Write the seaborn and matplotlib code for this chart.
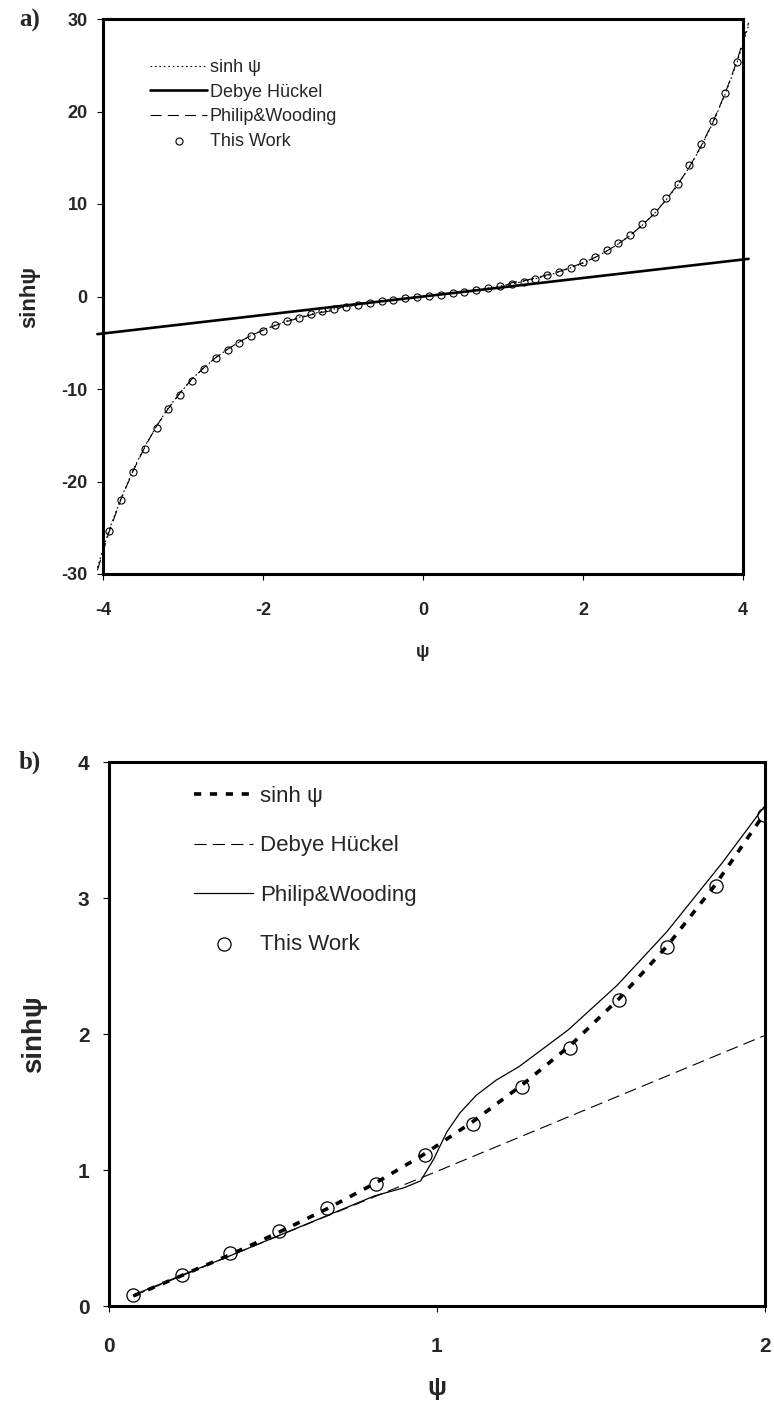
import matplotlib
matplotlib.use("Agg")
import matplotlib.pyplot as plt
import seaborn as sns

# ---- panel a data ----
a_line_x = [-4.07, -3.922, -3.774, -3.626, -3.478, -3.33, -3.182, -3.034, -2.886, -2.738,
            -2.59, -2.442, -2.294, -2.146, -1.998, -1.85, -1.702, -1.554, -1.406, -1.258,
            -1.11, -0.962, -0.814, -0.666, -0.518, -0.37, -0.222, -0.074,
            0.074, 0.222, 0.37, 0.518, 0.666, 0.814, 0.962, 1.11, 1.258, 1.406,
            1.554, 1.702, 1.85, 1.998, 2.146, 2.294, 2.442, 2.59, 2.738, 2.886,
            3.034, 3.182, 3.33, 3.478, 3.626, 3.774, 3.922, 4.07]
a_sinh = [-29.3, -25.2, -21.8, -18.8, -16.2, -14.0, -12.0, -10.4, -8.9, -7.7,
          -6.6, -5.7, -4.9, -4.2, -3.6, -3.1, -2.65, -2.26, -1.92, -1.62,
          -1.36, -1.12, -0.91, -0.72, -0.54, -0.38, -0.22, -0.07,
          0.07, 0.22, 0.38, 0.54, 0.72, 0.91, 1.12, 1.36, 1.62, 1.92,
          2.26, 2.65, 3.1, 3.6, 4.2, 4.9, 5.7, 6.6, 7.7, 8.9,
          10.4, 12.0, 14.0, 16.2, 18.8, 21.8, 25.2, 29.3]
a_pw = [-29.6, -25.4, -21.9, -18.9, -16.3, -14.0, -12.1, -10.4, -8.9, -7.7,
        -6.6, -5.7, -4.9, -4.2, -3.65, -3.15, -2.7, -2.35, -2.0, -1.7,
        -1.5, -0.95, -0.82, -0.67, -0.52, -0.37, -0.22, -0.07,
        0.07, 0.22, 0.37, 0.52, 0.67, 0.82, 0.95, 1.5, 1.7, 2.0,
        2.35, 2.7, 3.15, 3.65, 4.2, 4.9, 5.7, 6.6, 7.7, 8.9,
        10.4, 12.1, 14.0, 16.3, 18.9, 21.9, 25.4, 29.6]
a_dh_x = [-4.07, -2.0, 0.0, 2.0, 4.07]
a_dh = [-4.07, -2.0, 0.0, 2.0, 4.07]
a_work_x = a_line_x[1:-1]
a_work = [-25.4, -22.0, -19.0, -16.5, -14.2, -12.2, -10.6, -9.1, -7.8, -6.7,
          -5.8, -5.0, -4.3, -3.7, -3.1, -2.7, -2.3, -1.9, -1.6, -1.4,
          -1.1, -0.9, -0.7, -0.5, -0.4, -0.2, -0.1,
          0.1, 0.2, 0.4, 0.5, 0.7, 0.9, 1.1, 1.4, 1.6, 1.9,
          2.3, 2.7, 3.1, 3.7, 4.3, 5.0, 5.8, 6.7, 7.8, 9.1,
          10.6, 12.2, 14.2, 16.5, 19.0, 22.0, 25.4]

# ---- panel b data ----
b_x = [0.074, 0.222, 0.37, 0.518, 0.666, 0.814, 0.962, 1.11, 1.258, 1.406,
       1.554, 1.702, 1.85, 1.998]
b_sinh = [0.074, 0.224, 0.378, 0.542, 0.716, 0.906, 1.118, 1.357, 1.623, 1.915,
          2.257, 2.648, 3.102, 3.62]
b_work = [0.08, 0.23, 0.39, 0.55, 0.72, 0.90, 1.11, 1.34, 1.61, 1.90,
          2.25, 2.64, 3.09, 3.61]
b_dh_x = [0.074, 0.5, 1.0, 1.4, 1.7, 2.0]
b_dh = [0.074, 0.5, 0.99, 1.39, 1.69, 1.99]
b_pw_x = [0.074, 0.22, 0.37, 0.52, 0.67, 0.81, 0.90, 0.95, 0.99, 1.03, 1.07,
          1.12, 1.18, 1.25, 1.40, 1.55, 1.70, 1.87, 2.0]
b_pw = [0.08, 0.225, 0.37, 0.52, 0.67, 0.81, 0.87, 0.92, 1.08, 1.28, 1.42,
        1.55, 1.66, 1.76, 2.03, 2.36, 2.75, 3.26, 3.68]

labels = ["sinh ψ", "Debye Hückel", "Philip&Wooding", "This Work"]

sns.set_style("white")
plt.rcParams["font.family"] = ["Liberation Sans", "DejaVu Sans"]
plt.rcParams["axes.unicode_minus"] = False

fig = plt.figure(figsize=(7.74, 14.03), dpi=100)
ax_a = fig.add_axes([103 / 774, 1 - 574 / 1403, 640 / 774, 555 / 1403])
ax_b = fig.add_axes([109 / 774, 1 - 1306 / 1403, 656 / 774, 544 / 1403])


def style_axes(ax, tick_size, xpad, ypad):
    for sp in ax.spines.values():
        sp.set_visible(True)
        sp.set_color("black")
        sp.set_linewidth(2.2)
    ax.tick_params(direction="out", length=4, width=0.8, color="black",
                   left=True, bottom=True, labelsize=tick_size)
    ax.tick_params(axis="x", pad=xpad)
    ax.tick_params(axis="y", pad=ypad)
    for t in ax.get_xticklabels() + ax.get_yticklabels():
        t.set_fontweight("bold")


def make_legend(ax, size, hl, tp, ls, anchor):
    handles, labs = ax.get_legend_handles_labels()
    order = [labs.index(l) for l in labels]
    ax.legend([handles[i] for i in order], [labs[i] for i in order],
              loc="upper left", bbox_to_anchor=anchor, frameon=False,
              fontsize=size, handlelength=hl, handletextpad=tp,
              labelspacing=ls, borderpad=0, borderaxespad=0, scatterpoints=1)


# panel a
sns.scatterplot(x=a_work_x, y=a_work, ax=ax_a, marker="o", s=26, color="white",
                edgecolor="black", linewidth=0.8, label=labels[3], zorder=2)
sns.lineplot(x=a_line_x, y=a_sinh, ax=ax_a, color="black", lw=0.8,
             linestyle=(0, (1.5, 2.5)), label=labels[0], clip_on=False, zorder=3)
sns.lineplot(x=a_dh_x, y=a_dh, ax=ax_a, color="black", lw=1.9,
             label=labels[1], clip_on=False, zorder=3)
sns.lineplot(x=a_line_x, y=a_pw, ax=ax_a, color="black", lw=0.8,
             linestyle=(0, (10, 5.5)), label=labels[2], clip_on=False, zorder=3)
ax_a.set_xlim(-4, 4)
ax_a.set_ylim(-30, 30)
ax_a.set_xticks([-4, -2, 0, 2, 4])
ax_a.set_yticks([-30, -20, -10, 0, 10, 20, 30])
style_axes(ax_a, 13, 16, 7)
ax_a.set_xlabel("ψ", fontsize=13, fontweight="bold", va="center")
ax_a.set_ylabel("sinhψ", fontsize=16, fontweight="bold")
ax_a.xaxis.set_label_coords(0.5, -0.142)
ax_a.yaxis.set_label_coords(-0.098, 0.5)
make_legend(ax_a, 13, 3.2, 0.12, 0.42, (0.073, 0.928))

# panel b
sns.scatterplot(x=b_x, y=b_work, ax=ax_b, marker="o", s=90, color="white",
                edgecolor="black", linewidth=0.9, label=labels[3], zorder=2)
sns.lineplot(x=b_x, y=b_sinh, ax=ax_b, color="black", lw=2.6,
             linestyle=(0, (2, 2.4)), label=labels[0], zorder=3)
sns.lineplot(x=b_dh_x, y=b_dh, ax=ax_b, color="black", lw=0.8,
             linestyle=(0, (11, 5.5)), label=labels[1], zorder=3)
sns.lineplot(x=b_pw_x, y=b_pw, ax=ax_b, color="black", lw=0.9,
             label=labels[2], zorder=3)
ax_b.set_xlim(0, 2)
ax_b.set_ylim(0, 4)
ax_b.set_xticks([0, 1, 2])
ax_b.set_yticks([0, 1, 2, 3, 4])
style_axes(ax_b, 15, 18, 10)
ax_b.set_xlabel("ψ", fontsize=18, fontweight="bold", va="center")
ax_b.set_ylabel("sinhψ", fontsize=20, fontweight="bold")
ax_b.xaxis.set_label_coords(0.5, -0.15)
ax_b.yaxis.set_label_coords(-0.095, 0.5)
make_legend(ax_b, 16, 2.65, 0.3, 1.28, (0.13, 0.956))

fig.text(30 / 774, 1 - 20 / 1403, "a)", ha="center", va="center",
         family="Liberation Serif", fontweight="bold", fontsize=18)
fig.text(30 / 774, 1 - 762 / 1403, "b)", ha="center", va="center",
         family="Liberation Serif", fontweight="bold", fontsize=18)

fig.savefig("out.png", dpi=100)
